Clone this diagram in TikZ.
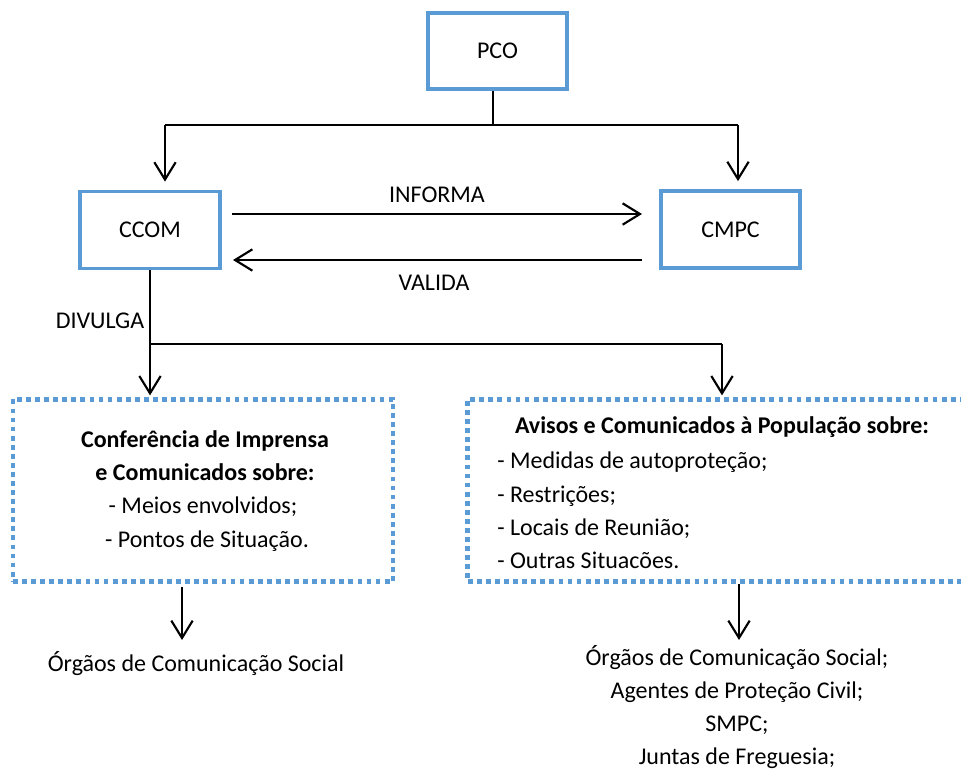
\documentclass[tikz,border=0pt]{standalone}
\usepackage{fontspec}
\setmainfont{Carlito}
\usetikzlibrary{arrows.meta}
\definecolor{boxblue}{HTML}{5B9BD5}
\begin{document}
\begin{tikzpicture}[x=0.75pt,y=-0.75pt,
  font=\fontsize{18pt}{22pt}\selectfont,
  solidbox/.style={draw=boxblue,line width=2.6pt,rectangle,inner sep=0pt},
  dotbox/.style={draw=boxblue,line width=3.7pt,dash pattern=on 3.6pt off 3.2pt,rectangle,inner sep=0pt},
  conn/.style={line width=1.6pt,draw=black},
  arr/.style={conn,-{Straight Barb[length=13pt,width=16pt,line width=1.6pt]}},
  txt/.style={anchor=base,inner sep=0pt}]
\useasboundingbox (0,0) rectangle (961,771);
\clip (0,0) rectangle (961,771);
% main boxes
\node[solidbox,minimum width=104pt,minimum height=57pt] (PCO) at (497.5,51) {PCO};
\node[solidbox,minimum width=105pt,minimum height=58pt] (CCOM) at (150,230) {CCOM};
\node[solidbox,minimum width=104pt,minimum height=58pt] (CMPC) at (730.5,229.5) {CMPC};
% dotted boxes
\node[dotbox,minimum width=285pt,minimum height=137pt] (LB) at (203,490.5) {};
\node[dotbox,minimum width=400pt,minimum height=137pt] (RB) at (734.5,490.5) {};
% coordinates
\coordinate (top) at (493,125);
\coordinate (tl) at (165,125);
\coordinate (tr) at (738,125);
\coordinate (ia) at (232,214);
\coordinate (ib) at (642,214);
\coordinate (va) at (642,260);
\coordinate (vb) at (233,260);
\coordinate (dj) at (150,344);
\coordinate (dr) at (722,344);
\coordinate (bl) at (182,587);
\coordinate (br) at (739,584);
% connectors
\draw[conn] (PCO.south -| top) -- (top);
\draw[conn] (tl) -- (tr);
\draw[arr] (tl) -- ([yshift=6]tl |- CCOM.north);
\draw[arr] (tr) -- ([yshift=6]tr |- CMPC.north);
\draw[arr] (ia) -- (ib);
\draw[arr] (va) -- (vb);
\draw[arr] (CCOM.south) -- ([yshift=1]CCOM.south |- LB.north);
\draw[conn] (dj) -- (dr);
\draw[arr] (dr) -- ([yshift=1]dr |- RB.north);
\draw[arr] (bl) -- ++(0,53);
\draw[arr] (br) -- ++(0,56);
% labels
\node[txt] (inf) at (437,202) {INFORMA};
\node[txt] (val) at (434,290) {VALIDA};
\node[txt] (div) at (100,328) {DIVULGA};
% left box text
\node[txt] at (205,447) {\bfseries Conferência de Imprensa};
\node[txt] at (205,480) {\bfseries e Comunicados sobre:};
\node[txt] at (203,513) {- Meios envolvidos;};
\node[txt] at (207,547) {- Pontos de Situação.};
% right box text
\node[txt] at (722,433) {\bfseries Avisos e Comunicados à População sobre:};
\node[txt,anchor=base west] at (497,468) {- Medidas de autoproteção;};
\node[txt,anchor=base west] at (497,502) {- Restrições;};
\node[txt,anchor=base west] at (497,535) {- Locais de Reunião;};
\node[txt,anchor=base west] at (497,568) {- Outras Situacões.};
% bottom texts
\node[txt] (ol) at (196,671) {Órgãos de Comunicação Social};
\node[txt] (o1) at (737,665) {Órgãos de Comunicação Social;};
\node[txt] (o2) at (737,698) {Agentes de Proteção Civil;};
\node[txt] (o3) at (737,731) {SMPC;};
\node[txt] (o4) at (737,764) {Juntas de Freguesia;};
\end{tikzpicture}
\end{document}
